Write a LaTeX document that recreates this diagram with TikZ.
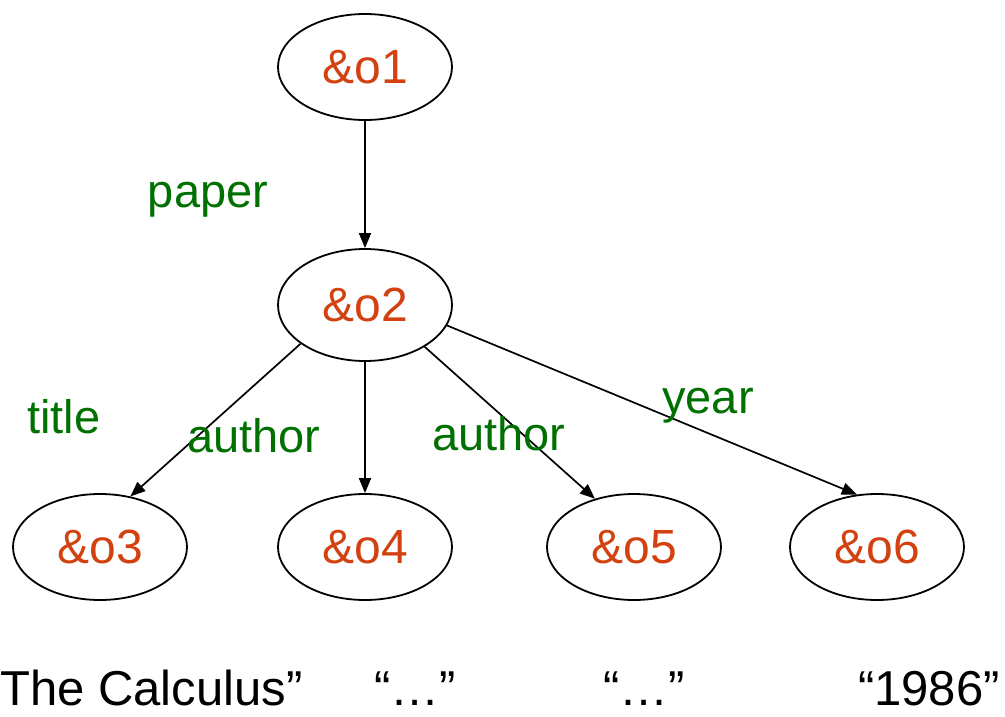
\documentclass[tikz,border=0pt]{standalone}
\usepackage{fontspec}
\setmainfont{Liberation Sans}
\usetikzlibrary{shapes.geometric,arrows.meta}
\definecolor{objred}{RGB}{210,65,15}
\definecolor{lblgreen}{RGB}{0,112,0}
\begin{document}
\begin{tikzpicture}[x=1pt,y=-1pt,
  obj/.style={ellipse,draw,line width=1.8pt,minimum width=174pt,minimum height=106pt,
    inner sep=0pt,font=\fontsize{48}{52}\selectfont,text=objred},
  lbl/.style={font=\fontsize{47}{52}\selectfont,text=lblgreen,inner sep=0pt,anchor=base},
  val/.style={font=\fontsize{49}{54}\selectfont,inner sep=0pt,anchor=base},
  link/.style={line width=1.7pt,-{Triangle[length=15pt,width=12pt]}}]
\useasboundingbox (0,0) rectangle (1005,716);

% object nodes
\node[obj] (o1) at (365,67) {\&o1};
\node[obj,minimum height=112pt] (o2) at (365,305) {\&o2};
\node[obj] (o3) at (100,547) {\&o3};
\node[obj] (o4) at (365,547) {\&o4};
\node[obj] (o5) at (634,547) {\&o5};
\node[obj] (o6) at (877,547) {\&o6};

% edges
\draw[link] (o1.south) -- (o2.north);
\draw[link] (o2.211) -- (o3.59);
\draw[link] (o2.south) -- (o4.north);
\draw[link] (o2.325) -- (o5.129);
\draw[link] (o2.346) -- (o6.111);

% edge labels
\node[lbl] (lpaper) at (208,207) {paper};
\node[lbl] (ltitle) at (64,433) {title};
\node[lbl] (lauth1) at (254,452) {author};
\node[lbl] (lauth2) at (499,450) {author};
\node[lbl] (lyear) at (708,413) {year};

% atomic values
\node[val,anchor=base west] (v3) at (0,705) {The Calculus”};
\node[val] (v4) at (415,705) {“…”};
\node[val] (v5) at (644,705) {“…”};
\node[val] (v6) at (929,705) {“1986”};
\end{tikzpicture}
\end{document}
